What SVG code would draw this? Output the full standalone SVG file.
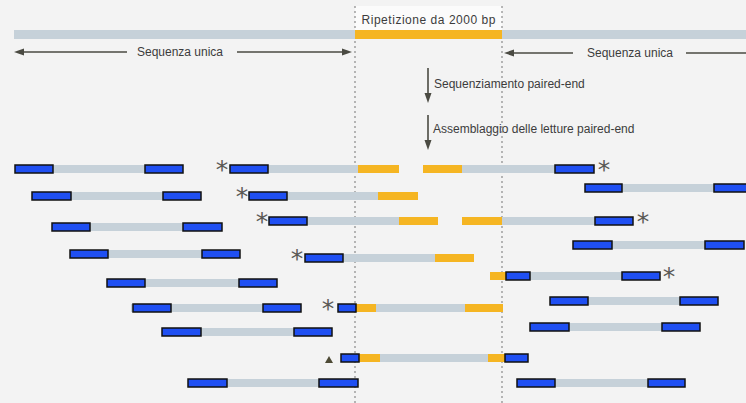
<svg xmlns="http://www.w3.org/2000/svg" width="746" height="403" viewBox="0 0 746 403">
<style>
.g{fill:#c6d1d9}
.o{fill:#f5b522}
.b{fill:#1f4ff2;stroke:#111;stroke-width:1.5}
.t{font-family:"Liberation Sans",Arial,sans-serif;font-size:12px;fill:#3c3c3c}
.ast{font-family:"DejaVu Sans",sans-serif;font-size:25px;fill:#5a5a55;text-anchor:middle}
.ln{stroke:#4a4a42;stroke-width:1.6;fill:none}
.ah{fill:#4a4a42}
.dash{stroke:#8a8a8a;stroke-width:1.2;stroke-dasharray:2 3}
</style>
<rect width="746" height="403" fill="#f3f3f3"/>
<rect x="355" y="6" width="147" height="24" fill="#fbfbfb"/>
<g id="guides">
<line class="dash" x1="355" y1="6" x2="355" y2="403"/>
<line class="dash" x1="502" y1="6" x2="502" y2="403"/>
</g>
<g id="genome">
<rect class="g" x="14" y="30" width="341" height="9"/>
<rect class="o" x="355" y="30" width="147" height="9"/>
<rect class="g" x="502" y="30" width="244" height="9"/>
<text class="t" x="428.5" y="24" text-anchor="middle" textLength="134">Ripetizione da 2000 bp</text>
<text class="t" x="180" y="56" text-anchor="middle">Sequenza unica</text>
<text class="t" x="630" y="57" text-anchor="middle">Sequenza unica</text>
</g>
<g id="connectors">
<line class="ln" x1="127" y1="52" x2="22" y2="52"/>
<polygon class="ah" points="14,52 24,48.5 24,55.5"/>
<line class="ln" x1="237" y1="52" x2="344" y2="52"/>
<polygon class="ah" points="352,52 342,48.5 342,55.5"/>
<line class="ln" x1="573" y1="53" x2="512" y2="53"/>
<polygon class="ah" points="504,53 514,49.5 514,56.5"/>
<line class="ln" x1="686" y1="53" x2="746" y2="53"/>
<line class="ln" x1="428" y1="68" x2="428" y2="95"/>
<polygon class="ah" points="428,103 424.5,93 431.5,93"/>
<line class="ln" x1="428" y1="115" x2="428" y2="142"/>
<polygon class="ah" points="428,150 424.5,140 431.5,140"/>
</g>
<g id="steps">
<text class="t" x="434" y="88">Sequenziamento paired-end</text>
<text class="t" x="433" y="133">Assemblaggio delle letture paired-end</text>
</g>
<g id="read1"><rect class="g" x="53" y="165" width="92" height="8"/><rect class="b" x="15" y="165" width="38" height="8"/><rect class="b" x="145" y="165" width="38" height="8"/></g>
<g id="read2"><text class="ast" x="222" y="178">*</text><rect class="g" x="268" y="165" width="90" height="8"/><rect class="o" x="358" y="165" width="41" height="8"/><rect class="b" x="230" y="165" width="38" height="8"/>
<rect class="o" x="423" y="165" width="39" height="8"/><rect class="g" x="462" y="165" width="93" height="8"/><rect class="b" x="555" y="165" width="39" height="8"/><text class="ast" x="604" y="178">*</text></g>
<g id="read3"><rect class="g" x="622" y="184" width="92" height="8"/><rect class="b" x="585" y="184" width="37" height="8"/><rect class="b" x="714" y="184" width="38" height="8"/></g>
<g id="read4"><rect class="g" x="71" y="192" width="92" height="8"/><rect class="b" x="32" y="192" width="39" height="8"/><rect class="b" x="163" y="192" width="38" height="8"/></g>
<g id="read5"><text class="ast" x="242" y="205">*</text><rect class="g" x="287" y="192" width="91" height="8"/><rect class="o" x="378" y="192" width="40" height="8"/><rect class="b" x="249" y="192" width="38" height="8"/></g>
<g id="read6"><text class="ast" x="262" y="230">*</text><rect class="g" x="307" y="217" width="92" height="8"/><rect class="o" x="399" y="217" width="39" height="8"/><rect class="b" x="269" y="217" width="38" height="8"/>
<rect class="o" x="462" y="217" width="40" height="8"/><rect class="g" x="502" y="217" width="93" height="8"/><rect class="b" x="595" y="217" width="38" height="8"/><text class="ast" x="643" y="230">*</text></g>
<g id="read7"><rect class="g" x="90" y="223" width="93" height="8"/><rect class="b" x="52" y="223" width="38" height="8"/><rect class="b" x="183" y="223" width="39" height="8"/></g>
<g id="read8"><rect class="g" x="612" y="241" width="93" height="8"/><rect class="b" x="573" y="241" width="39" height="8"/><rect class="b" x="705" y="241" width="39" height="8"/></g>
<g id="read9"><rect class="g" x="108" y="250" width="94" height="8"/><rect class="b" x="70" y="250" width="38" height="8"/><rect class="b" x="202" y="250" width="38" height="8"/></g>
<g id="read10"><text class="ast" x="297" y="267">*</text><rect class="g" x="343" y="254" width="92" height="8"/><rect class="o" x="435" y="254" width="39" height="8"/><rect class="b" x="305" y="254" width="38" height="8"/></g>
<g id="read11"><rect class="o" x="490" y="272" width="16" height="8"/><rect class="g" x="530" y="272" width="92" height="8"/><rect class="b" x="506" y="272" width="24" height="8"/><rect class="b" x="622" y="272" width="38" height="8"/><text class="ast" x="669" y="285">*</text></g>
<g id="read12"><rect class="g" x="145" y="279" width="94" height="8"/><rect class="b" x="107" y="279" width="38" height="8"/><rect class="b" x="239" y="279" width="38" height="8"/></g>
<g id="read13"><rect class="g" x="588" y="297" width="92" height="8"/><rect class="b" x="550" y="297" width="38" height="8"/><rect class="b" x="680" y="297" width="38" height="8"/></g>
<g id="read14"><rect class="g" x="131" y="304" width="132" height="8"/><rect class="b" x="133" y="304" width="38" height="8"/><rect class="b" x="263" y="304" width="38" height="8"/></g>
<g id="read15"><text class="ast" x="328" y="317">*</text><rect class="o" x="356" y="304" width="20" height="8"/><rect class="g" x="376" y="304" width="89" height="8"/><rect class="o" x="465" y="304" width="38" height="8"/><rect class="b" x="338" y="304" width="18" height="8"/></g>
<g id="read16"><rect class="g" x="569" y="323" width="93" height="8"/><rect class="b" x="530" y="323" width="39" height="8"/><rect class="b" x="662" y="323" width="38" height="8"/></g>
<g id="read17"><rect class="g" x="201" y="328" width="93" height="8"/><rect class="b" x="162" y="328" width="39" height="8"/><rect class="b" x="294" y="328" width="38" height="8"/></g>
<g id="read18"><polygon points="329,356 333,363 325,363" fill="#4d4a35"/><rect class="o" x="359" y="354" width="21" height="8"/><rect class="g" x="380" y="354" width="108" height="8"/><rect class="o" x="488" y="354" width="17" height="8"/><rect class="b" x="341" y="354" width="18" height="8"/><rect class="b" x="505" y="354" width="23" height="8"/></g>
<g id="read19"><rect class="g" x="227" y="379" width="92" height="8"/><rect class="b" x="188" y="379" width="39" height="8"/><rect class="b" x="319" y="379" width="39" height="8"/></g>
<g id="read20"><rect class="g" x="555" y="379" width="93" height="8"/><rect class="b" x="517" y="379" width="38" height="8"/><rect class="b" x="648" y="379" width="37" height="8"/></g>
</svg>
